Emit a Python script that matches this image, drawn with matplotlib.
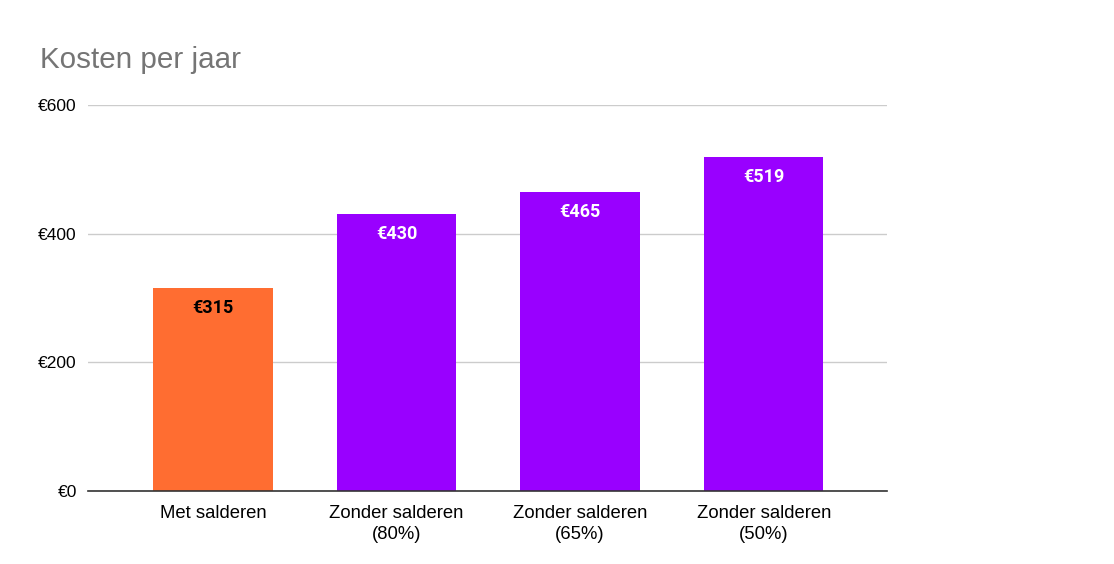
import numpy as np
import matplotlib.pyplot as plt

categories = ["Met salderen", "Zonder salderen\n(80%)", "Zonder salderen\n(65%)", "Zonder salderen\n(50%)"]
kosten = [315, 430, 465, 519]
colors = ["#ff6d31", "#9900ff", "#9900ff", "#9900ff"]
label_colors = ["#000000", "#ffffff", "#ffffff", "#ffffff"]
yticks = [0, 200, 400, 600]

fig = plt.figure(figsize=(11.14, 5.64), dpi=100)
ax = fig.add_axes([0.079, 0.1294, 0.717, 0.6844])

x = np.arange(len(categories))
bars = ax.bar(x, kosten, width=0.65, color=colors, zorder=3)

for b, v, c in zip(bars, kosten, label_colors):
    ax.text(b.get_x() + b.get_width() / 2, v - 31, "€%d" % v, ha="center", va="center",
            fontsize=13, fontweight="bold", color=c, family="Roboto", zorder=4)

ax.set_xlim(-0.68, 3.67)
ax.set_ylim(0, 600)
ax.set_yticks(yticks)
ax.set_yticklabels(["€%d" % t for t in yticks], family="Liberation Sans", fontsize=12.5)
ax.set_xticks(x)
ax.set_xticklabels(categories, family="Liberation Sans", fontsize=13.3, linespacing=1.3)
ax.tick_params(axis="x", length=0, pad=10, colors="#000000")
ax.tick_params(axis="y", length=0, pad=8, colors="#000000")

ax.grid(axis="y", color="#cccccc", linewidth=1, zorder=0)
for s in ["top", "right", "left"]:
    ax.spines[s].set_visible(False)
ax.spines["bottom"].set_color("#333333")
ax.spines["bottom"].set_linewidth(1.2)
ax.spines["bottom"].set_zorder(5)

fig.text(40 / 1114, 1 - 60 / 564, "Kosten per jaar", fontsize=21.3, color="#757575",
         family="Liberation Sans", va="center", ha="left")

plt.savefig("out.png", dpi=100)
